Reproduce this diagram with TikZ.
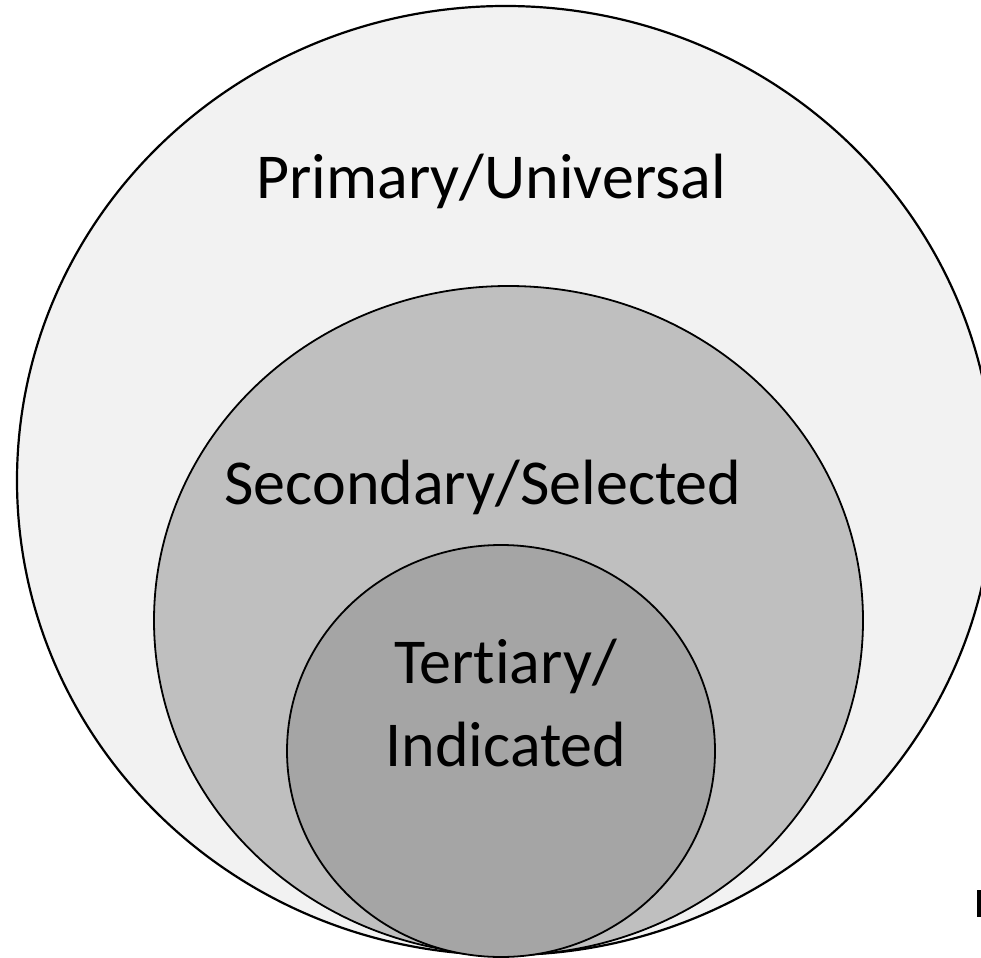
\documentclass[tikz,border=0pt]{standalone}
\usepackage{fontspec}
\setmainfont{Carlito}[Ligatures={NoCommon,NoContextual}]
\usetikzlibrary{shapes.geometric}

\definecolor{ringA}{HTML}{F2F2F2}
\definecolor{ringB}{HTML}{BFBFBF}
\definecolor{ringC}{HTML}{A5A5A5}

\tikzset{
  ring/.style={ellipse, draw=black, line width=1.8pt, inner sep=0pt, outer sep=0pt},
  lbl/.style={anchor=base, inner sep=0pt, font=\fontsize{64}{77}\selectfont}
}

\begin{document}
\begin{tikzpicture}[x=1pt,y=-1pt]
  \useasboundingbox (0,0) rectangle (981,957);
  \clip (0,0) rectangle (981,957);
  \fill[white] (0,0) rectangle (981,957);

  % nested sets, largest first
  \node[ring, fill=ringA, line width=2.2pt, minimum width=977pt, minimum height=949pt] (outer) at (505.5,480.5) {};
  \node[ring, fill=ringB, minimum width=709pt, minimum height=669pt] (middle) at (508.5,620.5) {};
  \node[ring, fill=ringC, minimum width=428pt, minimum height=412pt] (inner) at (501,751) {};

  % set labels
  \node[lbl] (tp) at (491,199) {Primary/Universal};
  \node[lbl] (ts) at (483,504) {Secondary/Selected};
  \node[lbl] (tt1) at (505.5,683) {Tertiary/};
  \node[lbl] (tt2) at (506,766) {Indicated};

  % mark at the right edge
  \fill[black] (977,890) rectangle (981,917);
\end{tikzpicture}
\end{document}
